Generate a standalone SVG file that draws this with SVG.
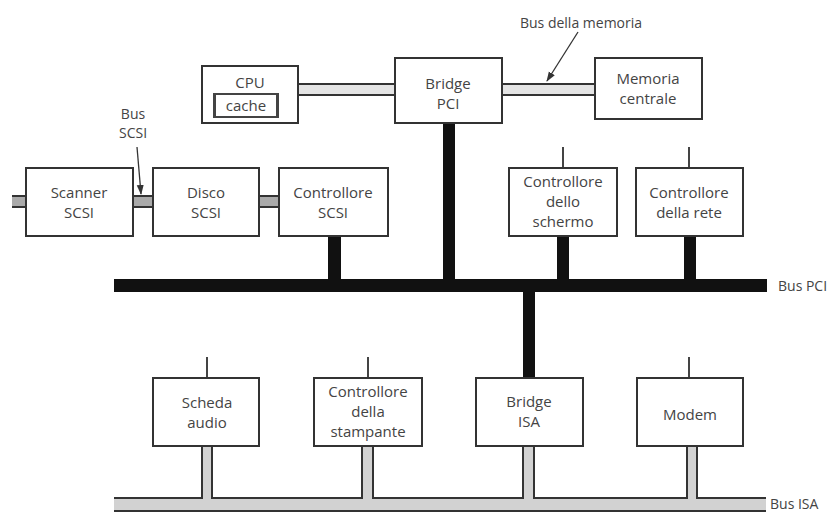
<svg xmlns="http://www.w3.org/2000/svg" width="840" height="512" viewBox="0 0 840 512">
<style>
.box{fill:#fff;stroke:#333;stroke-width:2}
.t{font-family:"Open Sans","DejaVu Sans",sans-serif;font-size:15px;fill:#444;text-anchor:middle}
.lbl{font-family:"Open Sans","DejaVu Sans",sans-serif;font-size:14px;fill:#444}
.thin{stroke:#444;stroke-width:2;fill:none}
.pci{fill:#111}
.edge{stroke:#333;stroke-width:2;fill:none}
</style>
<defs>
<marker id="ah" markerWidth="10" markerHeight="10" refX="9" refY="5" orient="auto" markerUnits="userSpaceOnUse">
<path d="M0,1.5 L10,5 L0,8.5 z" fill="#333"/>
</marker>
</defs>
<rect width="840" height="512" fill="#fff"/>

<g id="connectors">
  <!-- memory buses -->
  <rect x="298" y="84" width="97" height="11" fill="#e4e4e4"/>
  <path class="edge" d="M298,84 H395 M298,95 H395"/>
  <rect x="502" y="84" width="93" height="11" fill="#e4e4e4"/>
  <path class="edge" d="M502,84 H595 M502,95 H595"/>
  <!-- SCSI bus segments -->
  <rect x="12" y="196" width="14" height="11" fill="#aaa"/>
  <path class="edge" d="M12,196 H26 M12,207 H26"/>
  <rect x="133" y="196" width="20" height="11" fill="#aaa"/>
  <path class="edge" d="M133,196 H153 M133,207 H153"/>
  <rect x="259" y="196" width="20" height="11" fill="#aaa"/>
  <path class="edge" d="M259,196 H279 M259,207 H279"/>
  <!-- PCI bus -->
  <rect class="pci" x="114" y="279" width="653" height="13"/>
  <rect class="pci" x="443" y="123" width="12" height="157"/>
  <rect class="pci" x="328" y="236" width="13" height="44"/>
  <rect class="pci" x="557" y="236" width="12" height="44"/>
  <rect class="pci" x="684" y="236" width="12" height="44"/>
  <rect class="pci" x="523" y="291" width="12" height="87"/>
  <!-- thin stubs -->
  <path class="thin" d="M563,147 V168 M689,147 V168 M207,357 V378 M368,357 V378 M689,357 V378"/>
  <!-- ISA bus -->
  <g fill="#d2d2d2">
    <rect x="114" y="498" width="652" height="13"/>
    <rect x="202" y="446" width="10" height="53"/>
    <rect x="362" y="446" width="11" height="53"/>
    <rect x="523" y="446" width="11" height="53"/>
    <rect x="687" y="446" width="10" height="53"/>
  </g>
  <path class="edge" d="M114,498 H202 V446 M212,446 V498 H362 V446 M373,446 V498 H523 V446 M534,446 V498 H687 V446 M697,446 V498 H766 M114,511 H766"/>
  <!-- label arrows -->
  <line x1="578" y1="32" x2="547" y2="81" stroke="#333" stroke-width="1.3" marker-end="url(#ah)"/>
  <line x1="137" y1="147" x2="141" y2="194" stroke="#333" stroke-width="1.3" marker-end="url(#ah)"/>
</g>

<g id="cpu">
  <rect class="box" x="202" y="66" width="96" height="57"/>
  <text class="t" x="250" y="88">CPU</text>
  <rect x="214" y="94" width="64" height="23" fill="none" stroke="#444" stroke-width="2"/>
  <rect x="213" y="94" width="3" height="23" fill="#444"/>
  <rect x="276" y="94" width="3" height="23" fill="#444"/>
  <text class="t" x="246" y="111">cache</text>
</g>
<g id="bridge-pci">
  <rect class="box" x="395" y="58" width="107" height="65"/>
  <text class="t" x="448" y="89">Bridge</text>
  <text class="t" x="448" y="109">PCI</text>
</g>
<g id="memoria">
  <rect class="box" x="595" y="58" width="107" height="61"/>
  <text class="t" x="648" y="84">Memoria</text>
  <text class="t" x="648" y="104">centrale</text>
</g>
<g id="scanner">
  <rect class="box" x="26" y="168" width="107" height="68"/>
  <text class="t" x="79" y="198">Scanner</text>
  <text class="t" x="79" y="218">SCSI</text>
</g>
<g id="disco">
  <rect class="box" x="153" y="168" width="106" height="68"/>
  <text class="t" x="206" y="198">Disco</text>
  <text class="t" x="206" y="218">SCSI</text>
</g>
<g id="ctrl-scsi">
  <rect class="box" x="279" y="168" width="109" height="68"/>
  <text class="t" x="333" y="198">Controllore</text>
  <text class="t" x="333" y="218">SCSI</text>
</g>
<g id="ctrl-schermo">
  <rect class="box" x="509" y="168" width="108" height="68"/>
  <text class="t" x="563" y="187">Controllore</text>
  <text class="t" x="563" y="207">dello</text>
  <text class="t" x="563" y="227">schermo</text>
</g>
<g id="ctrl-rete">
  <rect class="box" x="636" y="168" width="107" height="68"/>
  <text class="t" x="689" y="198">Controllore</text>
  <text class="t" x="689" y="218">della rete</text>
</g>
<g id="scheda-audio">
  <rect class="box" x="153" y="378" width="106" height="68"/>
  <text class="t" x="207" y="408">Scheda</text>
  <text class="t" x="207" y="428">audio</text>
</g>
<g id="ctrl-stampante">
  <rect class="box" x="314" y="378" width="108" height="68"/>
  <text class="t" x="368" y="397">Controllore</text>
  <text class="t" x="368" y="417">della</text>
  <text class="t" x="368" y="437">stampante</text>
</g>
<g id="bridge-isa">
  <rect class="box" x="476" y="378" width="107" height="68"/>
  <text class="t" x="529" y="407">Bridge</text>
  <text class="t" x="529" y="427">ISA</text>
</g>
<g id="modem">
  <rect class="box" x="637" y="378" width="106" height="68"/>
  <text class="t" x="690" y="420">Modem</text>
</g>

<g id="labels">
  <text class="lbl" x="581" y="28" text-anchor="middle">Bus della memoria</text>
  <text class="lbl" x="133" y="119" text-anchor="middle">Bus</text>
  <text class="lbl" x="133" y="138" text-anchor="middle">SCSI</text>
  <text class="lbl" x="778" y="291" font-size="15">Bus PCI</text>
  <text class="lbl" x="770" y="509" font-size="15">Bus ISA</text>
</g>
</svg>
